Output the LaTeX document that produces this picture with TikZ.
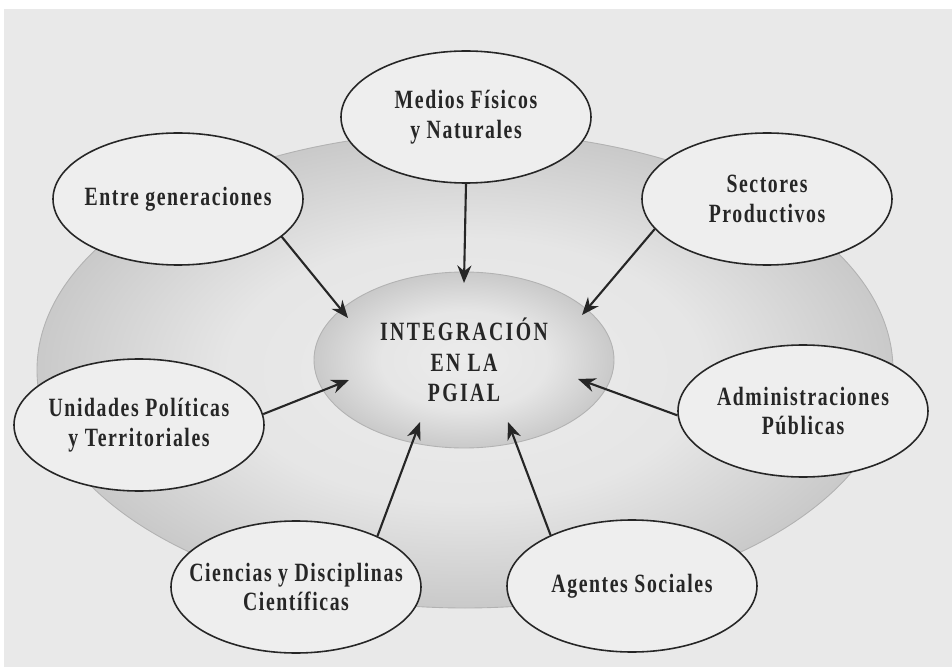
\documentclass[tikz,border=0pt]{standalone}
\usepackage{fontspec}
\setmainfont{Liberation Serif}[FakeStretch=0.75,LetterSpace=6]
\usetikzlibrary{shapes.geometric,arrows.meta}
\pgfdeclareradialshading{rim}{\pgfpoint{0bp}{0bp}}{color(0bp)=(gray!15); color(14bp)=(gray!20); color(35bp)=(gray!62); color(100bp)=(gray!62)}
\tikzstyle{papel}=[fill=gray!17, draw=none]
\tikzstyle{fondo}=[shape=ellipse, draw=gray!60, line width=0.5pt, shading=rim, minimum width=17.12cm, minimum height=9.52cm, inner sep=0pt]
\tikzstyle{pgial}=[shape=ellipse, draw=gray!60, line width=0.5pt, shading=rim, minimum width=6cm, minimum height=3.52cm, inner sep=0pt]
\tikzstyle{rama}=[shape=ellipse, draw=black!85, fill=gray!13, line width=0.9pt, minimum width=5cm, minimum height=2.64cm, inner sep=0pt]
\tikzstyle{txt}=[font=\bfseries\fontsize{15}{17}\selectfont, align=center, text=black!85]
\tikzstyle{flecha}=[draw=black!85, line width=1.2pt, -{Stealth[length=10pt,width=8pt]}]

\begin{document}
\begin{tikzpicture}
		\useasboundingbox (0, 0) rectangle (19.04, -13.34);
		\fill [style=papel] (0.08, -0.18) rectangle (19.04, -13.34);

		\node [style=fondo] (9) at (9.3, -7.4) {};
		\node [style=pgial, label={[style=txt, font=\bfseries\fontsize{15}{17.5}\selectfont\addfontfeature{LetterSpace=9}]center:{INTEGRACIÓN\\EN LA\\PGIAL}}] (0) at (9.28, -7.2) {};

		\node [style=rama, label={[style=txt]center:{Medios Físicos\\y Naturales}}] (1) at (9.32, -2.34) {};
		\node [style=rama, label={[style=txt]center:{Entre generaciones}}] (2) at (3.56, -3.98) {};
		\node [style=rama, label={[style=txt]center:{Sectores\\Productivos}}] (3) at (15.34, -3.98) {};
		\node [style=rama, label={[style=txt]center:{Administraciones\\Públicas}}] (4) at (16.06, -8.22) {};
		\node [style=rama, label={[style=txt]center:{Agentes Sociales}}] (5) at (12.64, -11.72) {};
		\node [style=rama, label={[style=txt]center:{Ciencias y Disciplinas\\Científicas}}] (6) at (5.92, -11.74) {};
		\node [style=rama, label={[style=txt]center:{Unidades Políticas\\y Territoriales}}] (7) at (2.78, -8.5) {};

		\coordinate (11) at (9.28, -5.66);
		\coordinate (12) at (6.96, -6.36);
		\coordinate (13) at (11.64, -6.3);
		\coordinate (14) at (11.56, -7.58);
		\coordinate (15) at (10.16, -8.44);
		\coordinate (16) at (8.4, -8.44);
		\coordinate (17) at (6.98, -7.6);

		\draw [style=flecha] (1.south) to (11);
		\draw [style=flecha] (2.-20) to (12);
		\draw [style=flecha] (3.-165) to (13);
		\draw [style=flecha] (4.182) to (14);
		\draw [style=flecha] (5.148) to (15);
		\draw [style=flecha] (6.32) to (16);
		\draw [style=flecha] (7.5) to (17);
	\end{tikzpicture}
\end{document}
